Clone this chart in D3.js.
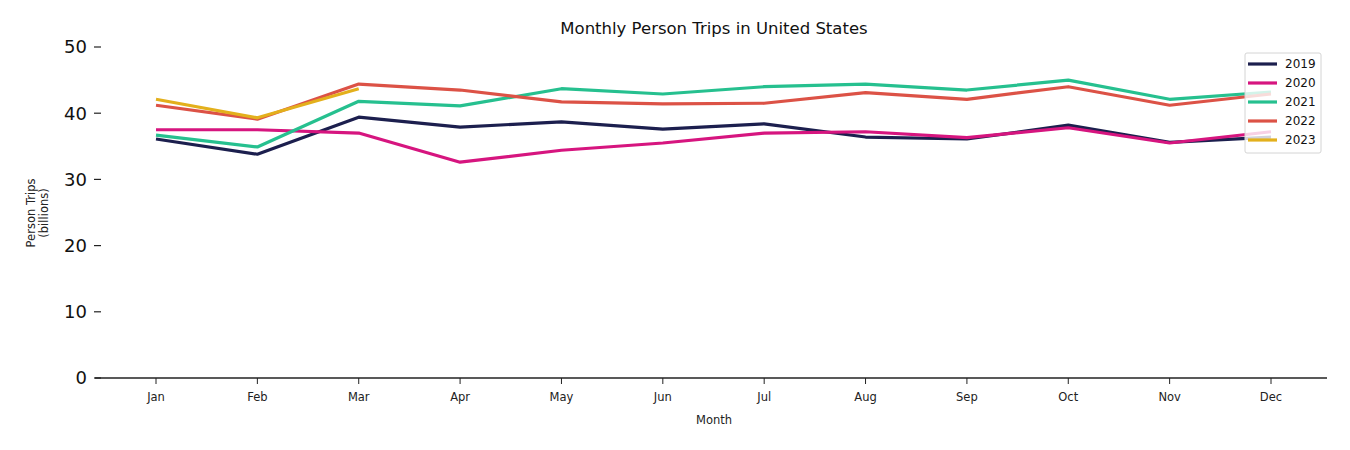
<!DOCTYPE html>
<html><head><meta charset="utf-8">
<script src="https://cdn.jsdelivr.net/npm/d3@7"></script>
<style>body{margin:0;background:#fff;} svg{display:block;font-family:"DejaVu Sans",sans-serif;}</style>
</head><body><svg id="c" width="1350" height="450"></svg>
<script>
const months = ["Jan","Feb","Mar","Apr","May","Jun","Jul","Aug","Sep","Oct","Nov","Dec"];
const years = ["2019","2020","2021","2022","2023"];
const colors = ["#1c1f4e","#d6157f","#26c08f","#dc5246","#e3b01c"];
const v2019 = [36.1,33.8,39.4,37.9,38.7,37.6,38.4,36.4,36.1,38.2,35.6,36.4];
const v2020 = [37.5,37.5,37.0,32.6,34.4,35.5,37.0,37.2,36.3,37.8,35.5,37.2];
const v2021 = [36.7,34.9,41.8,41.1,43.7,42.9,44.0,44.4,43.5,45.0,42.1,43.2];
const v2022 = [41.2,39.1,44.4,43.5,41.7,41.4,41.5,43.1,42.1,44.0,41.2,42.9];
const v2023 = [42.1,39.3,43.7];
const yTicks = [0,10,20,30,40,50];
const series = [v2019,v2020,v2021,v2022,v2023];

const svg = d3.select("#c");
const x = d3.scalePoint().domain(months).range([156,1271]);
const y = d3.scaleLinear().domain([0,50]).range([378,47]);

// x axis
svg.append("line").attr("x1",95).attr("x2",1327).attr("y1",378).attr("y2",378).attr("stroke","#222").attr("stroke-width",1.6);
const xg = svg.append("g");
months.forEach(m=>{
  xg.append("line").attr("x1",x(m)).attr("x2",x(m)).attr("y1",378).attr("y2",384).attr("stroke","#222").attr("stroke-width",1);
  xg.append("text").attr("x",x(m)).attr("y",401).attr("text-anchor","middle").attr("font-size",11.5).attr("fill","#222").text(m);
});
svg.append("text").attr("x",714).attr("y",424).attr("text-anchor","middle").attr("font-size",11.5).attr("fill","#222").text("Month");

// y axis
const yg = svg.append("g");
yTicks.forEach(t=>{
  yg.append("line").attr("x1",94).attr("x2",101).attr("y1",y(t)).attr("y2",y(t)).attr("stroke","#222").attr("stroke-width",1.2);
  yg.append("text").attr("x",87).attr("y",y(t)).attr("dy","0.35em").attr("text-anchor","end").attr("font-size",18).attr("fill","#111").text(t);
});
const yl = svg.append("text").attr("transform","translate(37,213) rotate(-90)").attr("text-anchor","middle").attr("font-size",11.5).attr("fill","#222");
yl.append("tspan").attr("x",0).attr("dy","-0.15em").text("Person Trips");
yl.append("tspan").attr("x",0).attr("dy","1.15em").text("(billions)");

svg.append("text").attr("x",714).attr("y",34).attr("text-anchor","middle").attr("font-size",16.5).attr("fill","#111").text("Monthly Person Trips in United States");

// lines
const line = d3.line().x((d,i)=>x(months[i])).y(d=>y(d));
series.forEach((s,i)=>{
  svg.append("path").attr("d",line(s)).attr("fill","none").attr("stroke",colors[i]).attr("stroke-width",3.2).attr("stroke-linejoin","round");
});

// legend
const lg = svg.append("g");
lg.append("rect").attr("x",1245).attr("y",53).attr("width",76).attr("height",100).attr("rx",2)
  .attr("fill","rgba(255,255,255,0.8)").attr("stroke","#d4d4d4").attr("stroke-width",1);
years.forEach((yr,i)=>{
  const yy = 64 + i*19;
  lg.append("line").attr("x1",1248).attr("x2",1277).attr("y1",yy).attr("y2",yy).attr("stroke",colors[i]).attr("stroke-width",3.2);
  lg.append("text").attr("x",1285).attr("y",yy).attr("dy","0.35em").attr("font-size",12).attr("fill","#111").text(yr);
});
</script></body></html>
